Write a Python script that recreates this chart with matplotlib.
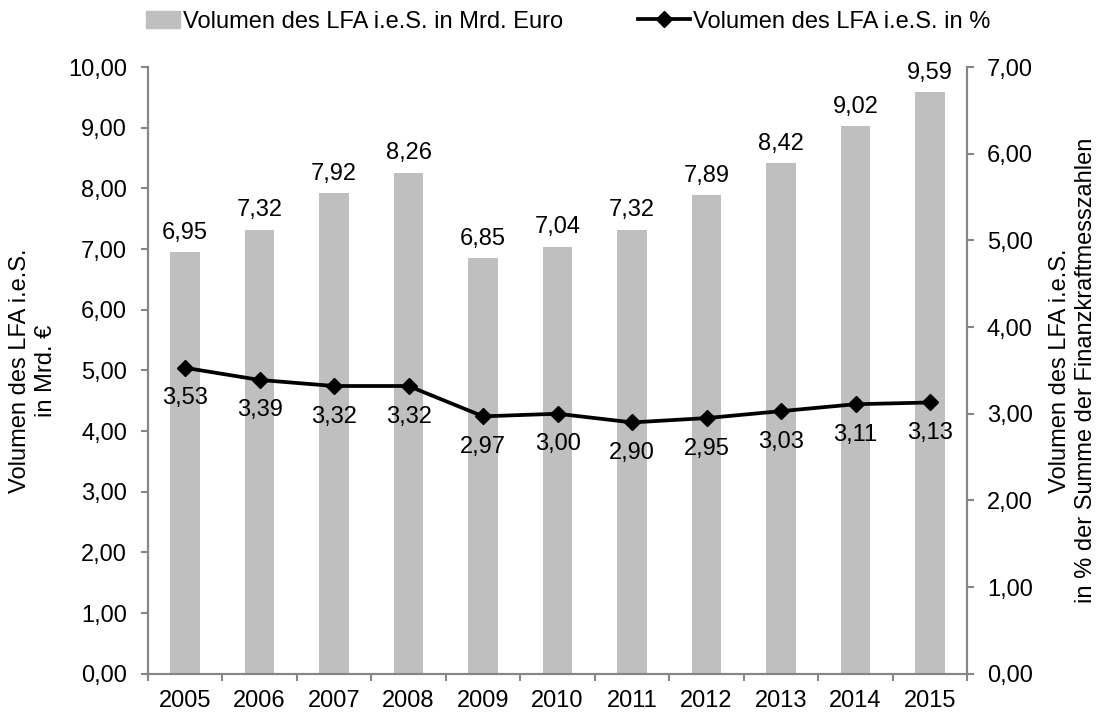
import numpy as np
import matplotlib.pyplot as plt
from matplotlib.lines import Line2D
from matplotlib.patches import Patch, Rectangle
from matplotlib.legend_handler import HandlerPatch

plt.rcParams['font.family'] = ['Liberation Sans', 'DejaVu Sans']

years = ['2005', '2006', '2007', '2008', '2009', '2010', '2011', '2012', '2013', '2014', '2015']
volume_bn = [6.95, 7.32, 7.92, 8.26, 6.85, 7.04, 7.32, 7.89, 8.42, 9.02, 9.59]
volume_pct = [3.53, 3.39, 3.32, 3.32, 2.97, 3.00, 2.90, 2.95, 3.03, 3.11, 3.13]


def de(v):
    return f'{v:.2f}'.replace('.', ',')


def narrow_box(legend, orig_handle, xdescent, ydescent, width, height, fontsize):
    # Excel draws a shorter swatch than the line sample
    return Rectangle((width * 0.33 - xdescent, -ydescent), width * 0.67, height)


fig = plt.figure(figsize=(11.03, 7.13), dpi=100)
ax = fig.add_axes([0.134, 0.055, 0.743, 0.851])
ax2 = ax.twinx()

x = np.arange(len(years))
spine_col = '#868686'
fs = 17

ax.bar(x, volume_bn, width=0.4, color='#bfbfbf', zorder=1)
for xi, v in zip(x, volume_bn):
    ax.annotate(de(v), (xi, v), xytext=(0, 6), textcoords='offset points',
                ha='center', va='bottom', fontsize=fs)

ax2.plot(x, volume_pct, color='black', lw=2.7, marker='D', ms=8.5, zorder=3)
for xi, v in zip(x, volume_pct):
    ax2.annotate(de(v), (xi, v), xytext=(0, -22), textcoords='offset points',
                 ha='center', va='center', fontsize=fs)

ax.set_xlim(-0.5, len(years) - 0.5)
ax.set_ylim(0, 10)
ax2.set_ylim(0, 7)
ax.set_yticks(np.arange(0, 10.01, 1))
ax.set_yticklabels([de(v) for v in np.arange(0, 10.01, 1)])
ax2.set_yticks(np.arange(0, 7.01, 1))
ax2.set_yticklabels([de(v) for v in np.arange(0, 7.01, 1)])

ax.set_xticks(x)
ax.set_xticklabels(years)
ax.set_xticks(np.arange(-0.5, len(years)), minor=True)
ax.tick_params(axis='x', which='major', length=0, labelsize=fs, pad=12)
ax.tick_params(axis='x', which='minor', length=5, color=spine_col, width=1.5)
ax.tick_params(axis='y', length=5, color=spine_col, width=1.5, labelsize=fs, pad=10)
ax2.tick_params(axis='y', length=5, color=spine_col, width=1.5, labelsize=fs, pad=9)

for a in (ax, ax2):
    a.spines['top'].set_visible(False)
    for s in ('left', 'right', 'bottom'):
        a.spines[s].set_color(spine_col)
        a.spines[s].set_linewidth(1.5)

ax.set_ylabel('Volumen des LFA i.e.S.\nin Mrd. €', fontsize=fs, labelpad=8)
ax2.set_ylabel('Volumen des LFA i.e.S.\nin % der Summe der Finanzkraftmesszahlen',
               fontsize=fs, labelpad=12)

handles = [Patch(color='#bfbfbf'),
           Line2D([], [], color='black', lw=2.7, marker='D', ms=8.5)]
labels = ['Volumen des LFA i.e.S. in Mrd. Euro', 'Volumen des LFA i.e.S. in %']
fig.legend(handles, labels, loc='upper center', bbox_to_anchor=(0.507, 1.015),
           ncol=2, frameon=False, fontsize=fs, handlelength=2.2,
           handletextpad=0.1, columnspacing=3.2,
           handler_map={Patch: HandlerPatch(patch_func=narrow_box)})

fig.savefig('out.png', dpi=100)
